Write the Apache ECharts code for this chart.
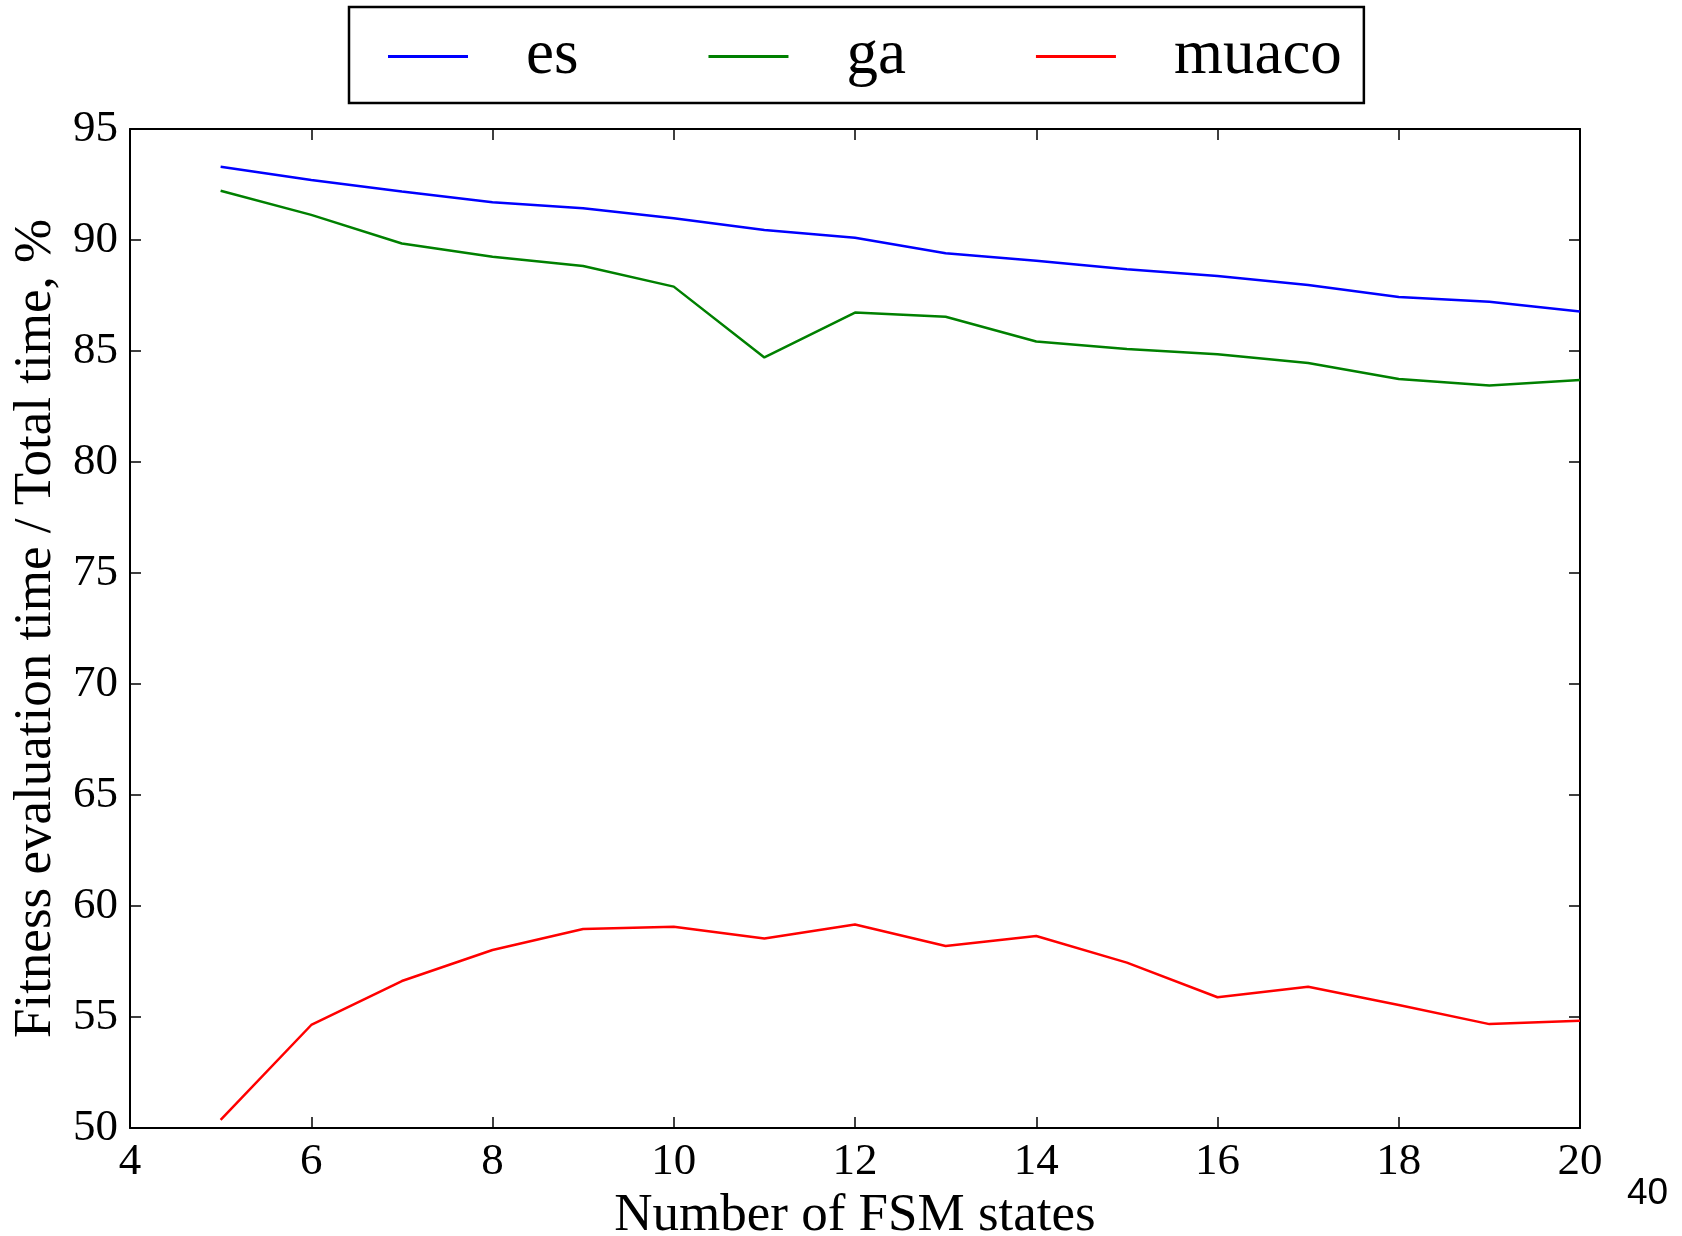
<!DOCTYPE html>
<html>
<head>
<meta charset="utf-8">
<title>Fitness evaluation time share</title>
<script src="https://cdn.jsdelivr.net/npm/echarts@6/dist/echarts.min.js"></script>
<style>
  html, body { margin: 0; padding: 0; background: #fff; }
  #chart { width: 1682px; height: 1236px; }
</style>
</head>
<body>
<div id="chart"></div>
<script>
// Number of FSM states
const states = [5, 6, 7, 8, 9, 10, 11, 12, 13, 14, 15, 16, 17, 18, 19, 20];

// Fitness evaluation time / total time, %
const esValues    = [93.3, 92.7, 92.18, 91.7, 91.43, 90.98, 90.45, 90.1, 89.4, 89.07, 88.68, 88.38, 87.97, 87.43, 87.22, 86.78];
const gaValues    = [92.22, 91.13, 89.84, 89.25, 88.83, 87.9, 84.71, 86.73, 86.54, 85.43, 85.09, 84.85, 84.46, 83.74, 83.45, 83.69];
const muacoValues = [50.37, 54.64, 56.62, 58.02, 58.96, 59.07, 58.54, 59.17, 58.2, 58.65, 57.45, 55.89, 56.36, 55.54, 54.68, 54.83];

const seriesNames = ['es', 'ga', 'muaco'];
const seriesColors = ['#0000ff', '#008000', '#ff0000'];

const xTitle = 'Number of FSM states';
const yTitle = 'Fitness evaluation time / Total time, %';
const pageNumber = '40';

const serif = '"Liberation Serif", "DejaVu Serif", serif';

const pairs = vals => states.map((s, i) => [s, vals[i]]);

const frameAxisLine = { show: true, lineStyle: { color: '#000', width: 2 } };
const frameTick = { show: true, inside: true, length: 11, lineStyle: { color: '#000', width: 1.5 } };

const chart = echarts.init(document.getElementById('chart'), null, { renderer: 'canvas' });

chart.setOption({
  backgroundColor: '#fff',
  animation: false,
  grid: { left: 130, right: 102, top: 129, bottom: 108, containLabel: false, outerBoundsMode: 'none' },
  legend: {
    left: 349,
    top: 7,
    width: 1011,
    padding: [18, 22, 15, 39],
    borderColor: '#000',
    borderWidth: 2.5,
    backgroundColor: '#fff',
    icon: 'rect',
    itemWidth: 80,
    itemHeight: 3,
    itemGap: 130,
    data: seriesNames,
    textStyle: {
      fontFamily: serif,
      fontSize: 63,
      color: '#000',
      lineHeight: 62,
      padding: [0, 0, 0, 53]
    }
  },
  xAxis: [
    {
      type: 'value',
      position: 'bottom',
      min: 4, max: 20, interval: 2,
      name: xTitle,
      nameLocation: 'middle',
      nameGap: 58,
      nameTextStyle: { fontFamily: serif, fontSize: 53, color: '#000' },
      axisLine: frameAxisLine,
      axisTick: frameTick,
      axisLabel: { fontFamily: serif, fontSize: 45, color: '#000', margin: 12 },
      splitLine: { show: false }
    },
    {
      type: 'value',
      position: 'top',
      min: 4, max: 20, interval: 2,
      axisLine: frameAxisLine,
      axisTick: frameTick,
      axisLabel: { show: false },
      splitLine: { show: false }
    }
  ],
  yAxis: [
    {
      type: 'value',
      position: 'left',
      min: 50, max: 95, interval: 5,
      name: yTitle,
      nameLocation: 'middle',
      nameRotate: 90,
      nameGap: 65,
      nameTextStyle: { fontFamily: serif, fontSize: 53, color: '#000' },
      axisLine: frameAxisLine,
      axisTick: frameTick,
      axisLabel: { fontFamily: serif, fontSize: 45, color: '#000', margin: 12 },
      splitLine: { show: false }
    },
    {
      type: 'value',
      position: 'right',
      min: 50, max: 95, interval: 5,
      axisLine: frameAxisLine,
      axisTick: frameTick,
      axisLabel: { show: false },
      splitLine: { show: false }
    }
  ],
  series: [esValues, gaValues, muacoValues].map((vals, i) => ({
    name: seriesNames[i],
    type: 'line',
    xAxisIndex: 0,
    yAxisIndex: 0,
    data: pairs(vals),
    symbol: 'none',
    color: seriesColors[i],
    lineStyle: { color: seriesColors[i], width: 2.5 }
  })),
  graphic: [
    {
      type: 'text',
      left: 1627,
      top: 1175,
      style: {
        text: pageNumber,
        font: '37px "Liberation Sans", Arial, sans-serif',
        fill: '#000'
      }
    }
  ]
});
</script>
</body>
</html>
